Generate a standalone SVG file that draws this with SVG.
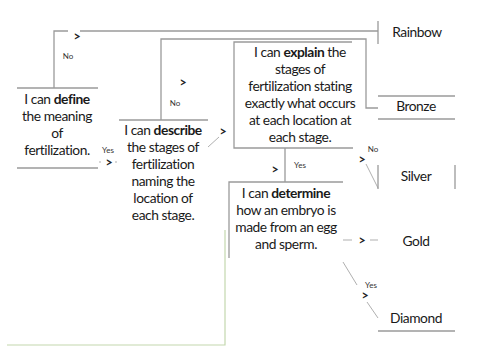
<svg xmlns="http://www.w3.org/2000/svg" width="500" height="353" viewBox="0 0 500 353">
<style>
.t{font-family:Lato,"Liberation Sans",sans-serif;font-size:13.8px;fill:#1a1a1a;text-anchor:middle;letter-spacing:-0.45px}
.b{font-weight:bold}
.s{font-family:Lato,"Liberation Sans",sans-serif;font-size:8px;fill:#333;text-anchor:middle}
.a{font-family:Lato,"Liberation Sans",sans-serif;font-size:12.5px;font-weight:bold;fill:#222;text-anchor:middle}
.ln{fill:none;stroke:#9a9a9a;stroke-width:1.3}
.lt{fill:none;stroke:#a6a6a6;stroke-width:0.9}
</style>
<rect width="500" height="353" fill="#fff"/>
<g id="connectors">
<path class="ln" d="M54,88 V31 H68 M80,31 H378"/>
<path class="ln" d="M161,120 V39 H366 V108 H378"/>
<path class="ln" d="M285,148 V182"/>
<path class="lt" d="M208,147 L219,137"/>
<path class="lt" d="M366,164 L378,188"/>
<path class="lt" d="M343,240 H352 M370,240 H378"/>
<path class="lt" d="M343,262 L357,285 M367,302 L378,318"/>
<path class="lt" d="M99,162 H103 M115,162 H118" stroke-dasharray="2 2"/>
<path d="M225,230 V345 H7" fill="none" stroke="#c4d8ae" stroke-width="1.2"/>
<text class="a" x="77" y="41">&gt;</text>
<text class="s" x="68" y="59">No</text>
<text class="a" x="183" y="87">&gt;</text>
<text class="s" x="175" y="106">No</text>
<text class="s" x="108" y="153">Yes</text>
<text class="a" x="109" y="167">&gt;</text>
<text class="a" x="223" y="136">&gt;</text>
<text class="a" x="275" y="174">&gt;</text>
<text class="s" x="300" y="168">Yes</text>
<text class="s" x="373" y="152">No</text>
<text class="a" x="362" y="164">&gt;</text>
<text class="a" x="362" y="245">&gt;</text>
<text class="s" x="371" y="288">Yes</text>
<text class="a" x="365" y="300">&gt;</text>
</g>
<g id="define">
<path class="ln" d="M17,88 H98 M17,168 H98"/>
<text class="t" x="57" y="104">I can <tspan class="b">define</tspan></text>
<text class="t" x="57" y="121">the meaning</text>
<text class="t" x="57" y="138">of</text>
<text class="t" x="57" y="155">fertilization.</text>
</g>
<g id="describe">
<path class="ln" d="M119,120 H208"/>
<text class="t" x="163" y="135">I can <tspan class="b">describe</tspan></text>
<text class="t" x="163" y="152">the stages of</text>
<text class="t" x="163" y="169">fertilization</text>
<text class="t" x="163" y="186">naming the</text>
<text class="t" x="163" y="203">location of</text>
<text class="t" x="163" y="220">each stage.</text>
</g>
<g id="explain">
<path class="ln" d="M352,42 H234 V148 H353"/>
<text class="t" x="300" y="57">I can <tspan class="b">explain</tspan> the</text>
<text class="t" x="300" y="74">stages of</text>
<text class="t" x="300" y="91">fertilization stating</text>
<text class="t" x="300" y="108">exactly what occurs</text>
<text class="t" x="300" y="125">at each location at</text>
<text class="t" x="300" y="142">each stage.</text>
</g>
<g id="determine">
<path class="ln" d="M343,182 H229 V258"/>
<text class="t" x="286" y="198">I can <tspan class="b">determine</tspan></text>
<text class="t" x="286" y="215">how an embryo is</text>
<text class="t" x="286" y="232">made from an egg</text>
<text class="t" x="286" y="249">and sperm.</text>
</g>
<g id="rainbow">
<path class="ln" d="M378,21 V44"/>
<text class="t" x="417" y="37">Rainbow</text>
</g>
<g id="bronze">
<path class="ln" d="M378,96 H455 M378,119 H455"/>
<text class="t" x="416" y="111">Bronze</text>
</g>
<g id="silver">
<path class="ln" d="M378,165 V189 M455,165 V189"/>
<text class="t" x="416" y="181">Silver</text>
</g>
<g id="gold">
<text class="t" x="416" y="246">Gold</text>
</g>
<g id="diamond">
<path class="ln" d="M378,331 H455"/>
<text class="t" x="416" y="323">Diamond</text>
</g>
</svg>
